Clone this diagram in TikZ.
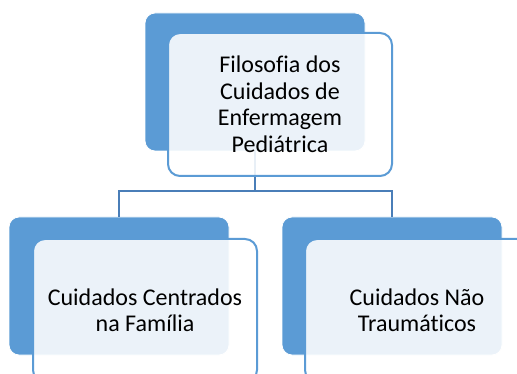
\documentclass[tikz,border=0pt]{standalone}
\usepackage{fontspec}
\setmainfont[Ligatures=NoCommon]{Carlito}
\definecolor{sblue}{HTML}{5B9BD5}
\definecolor{cblue}{HTML}{4A7EB8}
\begin{document}
\begin{tikzpicture}[x=1pt,y=-1pt,
  back/.style={rectangle, fill=sblue, draw=white, line width=0.8pt, rounded corners=10pt,
    minimum width=220pt, minimum height=138pt, anchor=north west, outer sep=0pt},
  front/.style={rectangle, fill=white, fill opacity=0.88, text opacity=1, draw=sblue, line width=2pt,
    rounded corners=12pt, minimum width=224pt, minimum height=143pt, anchor=north west,
    outer sep=0pt, align=center, font=\fontsize{24}{26.5}\selectfont},
  conn/.style={draw=cblue, line width=2.2pt}]
\useasboundingbox (0,0) rectangle (517,374);
\clip (0,0) rectangle (517,374);
\node[back] (b1) at (145,13) {};
\node[back] (b2) at (9,217) {};
\node[back] (b3) at (282,217) {};
\coordinate (j) at (255,191);
\draw[conn] (b1.south) -- (b1.south |- j) -| (b2.north);
\draw[conn] (b1.south |- j) -| (b3.north);
\node[front] (f1) at (168,33) {Filosofia dos\\Cuidados de\\Enfermagem\\Pediátrica};
\node[front] (f2) at (33,239) {Cuidados Centrados\\na Família};
\node[front] (f3) at (305,239) {Cuidados Não\\Traumáticos};
\end{tikzpicture}
\end{document}
